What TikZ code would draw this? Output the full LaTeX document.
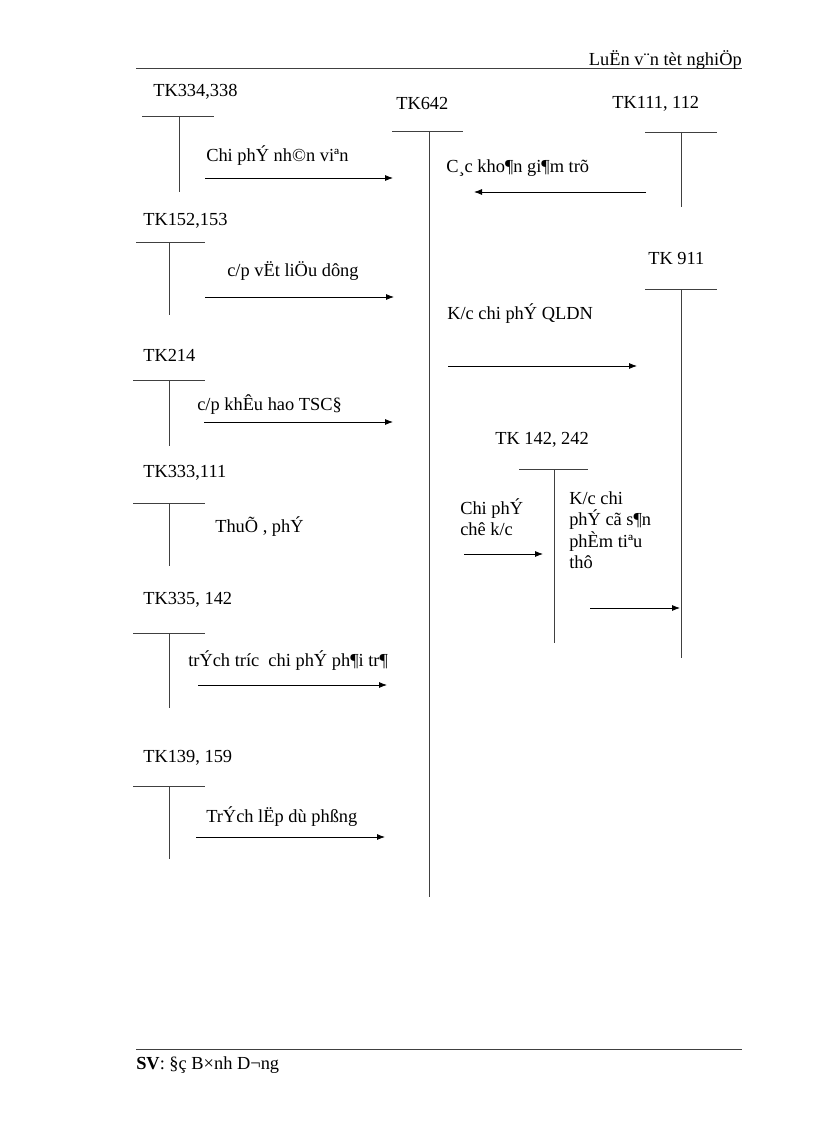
\documentclass[tikz,border=0pt]{standalone}
\usepackage{fontspec}
\setmainfont{Liberation Serif}
\newfontfamily\tnr{Liberation Serif}
\usetikzlibrary{arrows.meta}
\begin{document}
\begin{tikzpicture}[x=0.75pt,y=-0.75pt,
  lbl/.style={anchor=west,inner sep=0pt,font=\tnr\fontsize{13.8}{16}\selectfont},
  ln/.style={line width=0.6pt,black!75},
  arr/.style={line width=0.6pt,-{Latex[length=6pt,width=4.5pt]}}]
\useasboundingbox (0,0) rectangle (816,1123);
% header/footer
\draw[ln] (136,68) -- (742,68);
\node[anchor=east,inner sep=0pt,font=\tnr\fontsize{13.8}{16}\selectfont] (hdr) at (742,60) {LuËn v¨n tèt nghiÖp};
\draw[ln] (136,1049) -- (742,1049);
\node[lbl] (ftr) at (136,1065) {\textbf{SV}: §ç B×nh D¬ng};
% TK642
\node[lbl] (t642) at (396,104) {TK642};
\draw[ln] (392,131) -- (463,131); \draw[ln] (429,131) -- (429,897);
% TK111
\node[lbl] (t111) at (612,104) {TK111, 112};
\draw[ln] (645,132) -- (717,132); \draw[ln] (681,132) -- (681,207);
% TK911
\node[lbl] (t911) at (648,258) {TK 911};
\draw[ln] (645,289) -- (717,289); \draw[ln] (681,289) -- (681,658);
% TK142 242
\node[lbl] (t142) at (495,440) {TK 142, 242};
\draw[ln] (519,469) -- (588,469); \draw[ln] (554,469) -- (554,643);
% left accounts
\node[lbl] (t334) at (153,92) {TK334,338};
\draw[ln] (142,116) -- (214,116); \draw[ln] (179,116) -- (179,192);
\node[lbl] (t152) at (143,221) {TK152,153};
\draw[ln] (136,242) -- (205,242); \draw[ln] (169,242) -- (169,315);
\node[lbl] (t214) at (143,355) {TK214};
\draw[ln] (133,380) -- (205,380); \draw[ln] (169,380) -- (169,446);
\node[lbl] (t333) at (143,473) {TK333,111};
\draw[ln] (133,503) -- (205,503); \draw[ln] (169,503) -- (169,566);
\node[lbl] (t335) at (143,600) {TK335, 142};
\draw[ln] (133,633) -- (205,633); \draw[ln] (169,633) -- (169,708);
\node[lbl] (t139) at (143,758) {TK139, 159};
\draw[ln] (133,786) -- (205,786); \draw[ln] (169,786) -- (169,859);
% flows
\node[lbl] (l1) at (206,156) {Chi phÝ nh©n viªn};
\draw[arr] (205,178) -- (393,178);
\node[lbl] (l2) at (446,168) {C¸c kho¶n gi¶m trõ};
\draw[arr] (646,192) -- (474,192);
\node[lbl] (l3) at (227,271) {c/p vËt liÖu dông};
\draw[arr] (205,297) -- (394,297);
\node[lbl] (l4) at (447,314) {K/c chi phÝ QLDN};
\draw[arr] (448,366) -- (637,366);
\node[lbl] (l5) at (197,405) {c/p khÊu hao TSC§};
\draw[arr] (204,422) -- (393,422);
\node[lbl] (l6) at (215,527) {ThuÕ , phÝ};
\node[lbl,align=left,anchor=north west] (l7) at (460,498) {Chi phÝ\\chê k/c};
\draw[arr] (464,554) -- (543,554);
\node[lbl,align=left,anchor=north west,font=\tnr\fontsize{13.8}{16.2}\selectfont] (l8) at (569,491) {K/c chi\\phÝ cã s¶n\\phÈm tiªu\\thô};
\draw[arr] (590,608) -- (680,608);
\node[lbl] (l9) at (188,661) {trÝch tríc \ chi phÝ ph¶i tr¶};
\draw[arr] (198,685) -- (387,685);
\node[lbl] (l10) at (206,817) {TrÝch lËp dù phßng};
\draw[arr] (196,837) -- (385,837);
\end{tikzpicture}
\end{document}
